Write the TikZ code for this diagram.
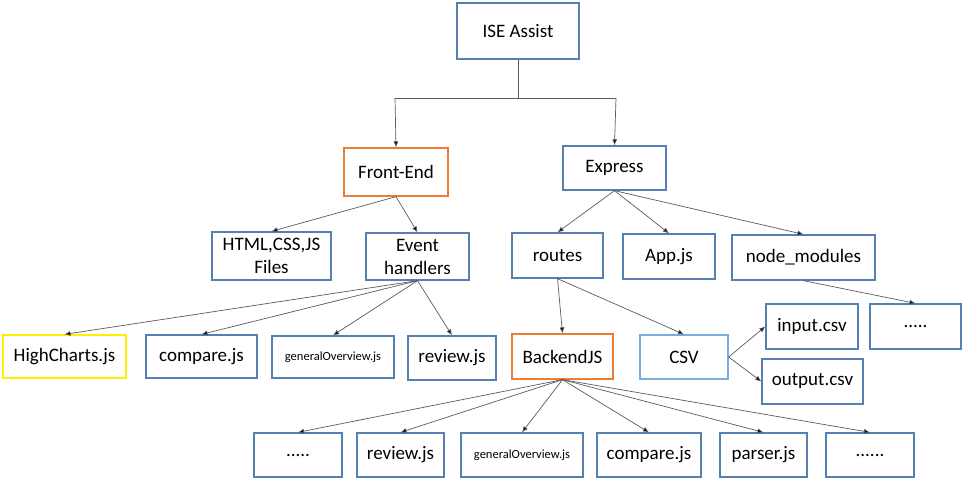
\documentclass[tikz,border=0pt]{standalone}
\usepackage{fontspec}
\setmainfont{Carlito}
\usetikzlibrary{arrows.meta}
\definecolor{boxblue}{RGB}{84,128,178}
\definecolor{boxorange}{RGB}{237,125,49}
\definecolor{boxyellow}{RGB}{255,240,0}
\definecolor{boxlight}{RGB}{125,172,222}
\definecolor{linegray}{RGB}{90,90,90}
\begin{document}
\begin{tikzpicture}[x=1pt,y=-1pt,
  box/.style={draw=boxblue,line width=1.3pt,fill=white,inner sep=2pt,align=center,
    font=\fontsize{19}{23}\selectfont},
  small/.style={font=\fontsize{12.5}{15}\selectfont},
  arr/.style={draw=linegray,line width=0.7pt,-{Latex[length=6pt,width=5pt,fill=black]}},
  ln/.style={draw=linegray,line width=1pt}]
\useasboundingbox (0,0) rectangle (962,479);
% top
\node[box,minimum width=122pt,minimum height=56pt] (ise) at (518,31) {ISE Assist};
\node[box,draw=boxorange,minimum width=104pt,minimum height=48pt] (fe) at (396,172) {Front-End};
\node[box,minimum width=103pt,minimum height=44pt] (ex) at (614.5,168) {Express};
% front-end children
\node[box,minimum width=119pt,minimum height=48pt] (html) at (271.5,256) {HTML,CSS,JS\\Files};
\node[box,minimum width=103pt,minimum height=47pt] (eh) at (417.5,256.5) {Event\\handlers};
\node[box,draw=boxyellow,minimum width=123pt,minimum height=43pt] (hc) at (64.5,356.5) {HighCharts.js};
\node[box,minimum width=111pt,minimum height=43pt] (cmpa) at (201.5,356.5) {compare.js};
\node[box,small,minimum width=122pt,minimum height=42pt] (goa) at (333,357) {generalOverview.js};
\node[box,minimum width=88pt,minimum height=44pt] (reva) at (452,358) {review.js};
% express children
\node[box,minimum width=91pt,minimum height=45pt] (routes) at (557.5,255.5) {routes};
\node[box,minimum width=92pt,minimum height=45pt] (app) at (669,256.5) {App.js};
\node[box,minimum width=143pt,minimum height=45pt] (nm) at (803.5,257.5) {node\_modules};
\node[box,draw=boxorange,minimum width=101pt,minimum height=45pt] (bjs) at (562.5,356.5) {BackendJS};
\node[box,draw=boxlight,minimum width=88pt,minimum height=44pt] (csv) at (684,357) {CSV};
\node[box,minimum width=92pt,minimum height=45pt] (inp) at (812,326.5) {input.csv};
\node[box,minimum width=91pt,minimum height=45pt] (dotsa) at (915.5,326.5) {.....};
\node[box,minimum width=101pt,minimum height=45pt] (out) at (812.5,381.5) {output.csv};
% bottom row
\node[box,minimum width=88pt,minimum height=44pt] (dotsb) at (298,455) {.....};
\node[box,minimum width=87pt,minimum height=44pt] (revb) at (400.5,455) {review.js};
\node[box,small,minimum width=122pt,minimum height=44pt] (gob) at (522,455) {generalOverview.js};
\node[box,minimum width=104pt,minimum height=44pt] (cmpb) at (649,455) {compare.js};
\node[box,minimum width=87pt,minimum height=44pt] (par) at (763.5,455) {parser.js};
\node[box,minimum width=88pt,minimum height=44pt] (dotsc) at (870,455) {......};
% tree connectors
\coordinate (stem) at (518,98);
\coordinate (lj) at (395,98);
\coordinate (rj) at (616,98);
\draw[ln] (ise.south) -- (stem);
\draw[ln] (lj) -- (rj);
\draw[arr] (lj) -- (fe.north);
\draw[arr] (rj) -- (ex.north);
\draw[arr] (fe.south) -- (html.north);
\draw[arr] (fe.south) -- (eh.north);
\draw[arr] (eh.south) -- (hc.north);
\draw[arr] (eh.south) -- (cmpa.north);
\draw[arr] (eh.south) -- (goa.north);
\draw[arr] (eh.south) -- (reva.north);
\draw[arr] (ex.south) -- (routes.north);
\draw[arr] (ex.south) -- (app.north);
\draw[arr] (ex.south) -- (nm.north);
\draw[arr] (routes.south) -- (bjs.north);
\draw[arr] (routes.south) -- (csv.north);
\draw[arr] (nm.south) -- (dotsa.north);
\draw[arr] (csv.east) -- (inp.west);
\draw[arr] (csv.east) -- (out.west);
\draw[arr] (bjs.south) -- (dotsb.north);
\draw[arr] (bjs.south) -- (revb.north);
\draw[arr] (bjs.south) -- (gob.north);
\draw[arr] (bjs.south) -- (cmpb.north);
\draw[arr] (bjs.south) -- (par.north);
\draw[arr] (bjs.south) -- (dotsc.north);
\end{tikzpicture}
\end{document}
